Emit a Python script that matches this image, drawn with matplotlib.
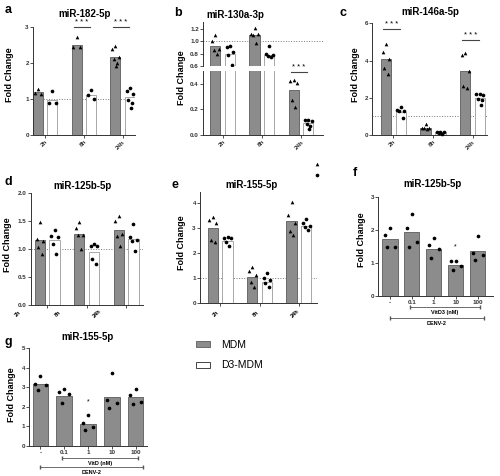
import numpy as np
import matplotlib.pyplot as plt
from matplotlib.patches import Patch
from matplotlib.transforms import offset_copy

plt.rcParams['font.family'] = ['Liberation Sans', 'DejaVu Sans']

W, H = 500, 476
GRAY = '#8c8c8c'
GRAY_EDGE = '#6a6a6a'
LIGHT_EDGE = '#a8a8a8'

times = ['2h', '8h', '24h']
doses = ['-', '0.1', '1', '10', '100']

# a: miR-182-5p
a_mdm = [1.20, 2.50, 2.18]
a_d3 = [0.97, 1.12, 1.05]
a_mdm_pts = [[1.28, 1.17, 1.13], [2.72, 2.45, 2.45], [2.48, 2.40, 2.18, 2.12, 1.99, 1.93]]
a_d3_pts = [[1.22, 0.88, 0.88], [1.25, 1.12, 1.00], [1.30, 1.22, 1.13, 0.98, 0.88, 0.75]]

# b: miR-130a-3p
b_mdm = [0.93, 1.10, 0.35]
b_d3 = [0.80, 0.78, 0.09]
b_mdm_pts = [[1.10, 1.00, 0.88, 0.86, 0.80], [1.22, 1.12, 1.11, 1.10, 0.97], [0.43, 0.42, 0.41, 0.27, 0.22]]
b_d3_pts = [[0.92, 0.90, 0.82, 0.78, 0.62], [0.93, 0.80, 0.77, 0.76, 0.75], [0.12, 0.115, 0.11, 0.085, 0.07, 0.05]]

# c: miR-146a-5p
c_mdm = [4.08, 0.36, 3.46]
c_d3 = [1.22, 0.14, 1.97]
c_mdm_pts = [[4.90, 4.45, 4.10, 3.60, 3.30], [0.58, 0.40, 0.38, 0.36, 0.32], [4.40, 4.30, 3.45, 2.62, 2.50]]
c_d3_pts = [[1.48, 1.35, 1.30, 1.27, 0.90], [0.18, 0.15, 0.14, 0.12, 0.08], [2.20, 2.18, 2.15, 1.95, 1.88, 1.62]]

# d: miR-125b-5p
d_mdm = [1.17, 1.27, 1.34]
d_d3 = [1.16, 0.95, 1.18]
d_mdm_pts = [[1.48, 1.18, 1.15, 1.03, 0.92], [1.48, 1.38, 1.26, 1.25, 1.00], [1.60, 1.50, 1.28, 1.24, 1.06]]
d_d3_pts = [[1.35, 1.24, 1.22, 1.10, 0.91], [1.10, 1.05, 1.05, 0.83, 0.73], [1.45, 1.22, 1.16, 1.14, 0.96]]

# e: miR-155-5p
e_mdm = [2.99, 1.05, 3.27]
e_d3 = [2.50, 0.85, 3.07]
e_mdm_pts = [[3.45, 3.33, 3.22, 2.52, 2.45], [1.42, 1.28, 1.10, 0.85, 0.65], [4.06, 3.53, 3.20, 2.90, 2.72]]
e_d3_pts = [[2.66, 2.62, 2.60, 2.45, 2.27], [1.20, 0.98, 0.92, 0.78, 0.62], [3.36, 3.22, 3.10, 3.06, 2.92]]
e_out_mdm = [5.58]
e_out_d3 = [5.14]

# f: miR-125b-5p, VitD3 doses
f_bar = [1.72, 1.93, 1.42, 0.94, 1.37]
f_pts = [[2.05, 1.85, 1.47, 1.47], [2.48, 2.06, 1.65, 1.49], [1.75, 1.56, 1.42, 1.14],
         [1.06, 1.05, 0.90, 0.78], [1.83, 1.29, 1.25, 1.09]]

# g: miR-155-5p, VitD doses
g_bar = [3.17, 2.58, 1.11, 2.53, 2.49]
g_pts = [[3.58, 3.18, 3.12, 2.87], [2.93, 2.78, 2.68, 2.19], [1.58, 1.20, 0.96, 0.82],
         [3.75, 2.33, 2.18, 1.93], [2.92, 2.63, 2.25, 2.13]]

fig = plt.figure(figsize=(W / 100, H / 100), dpi=100)


def add_ax(l, t, r, b):
    return fig.add_axes([l / W, 1 - b / H, (r - l) / W, (b - t) / H])


def style(ax):
    for s in ['top', 'right']:
        ax.spines[s].set_visible(False)
    for s in ['left', 'bottom']:
        ax.spines[s].set_linewidth(0.7)
        ax.spines[s].set_color('#333333')
    ax.tick_params(labelsize=4.5, length=2, width=0.6, pad=1, colors='#333333')
    for lab in ax.get_yticklabels() + ax.get_xticklabels():
        lab.set_fontweight('bold')


def spread(n):
    base = [0, -1, 1, -0.5, 0.5, 0.25]
    return np.array(base[:n])


def points(ax, xc, vals, marker, w, clip=False):
    ax.scatter(xc + spread(len(vals)) * w * 0.33, vals, marker=marker, s=7,
               color='black', linewidths=0, zorder=3, clip_on=clip)


W_BAR, OFF = 0.26, 0.187


def grouped(ax, mdm, d3, mdm_pts, d3_pts, clip=False):
    x = np.arange(len(mdm))
    ax.bar(x - OFF, mdm, W_BAR, color=GRAY, edgecolor=GRAY_EDGE, lw=0.7, zorder=2)
    ax.bar(x + OFF, d3, W_BAR, color='white', edgecolor=LIGHT_EDGE, lw=0.7, zorder=2)
    for i in x:
        points(ax, i - OFF, mdm_pts[i], '^', W_BAR, clip)
        points(ax, i + OFF, d3_pts[i], 'o', W_BAR, clip)
    ax.axhline(1, ls=':', color='#777777', lw=0.7, zorder=1)


def rotated_xlabels(ax):
    ax.set_xticks(range(3))
    ax.set_xticklabels(times, rotation=45, ha='right', rotation_mode='anchor', fontsize=4, fontweight='bold')


def stars(ax, i, y_line, y_text):
    ax.plot([i - 0.26, i + 0.16], [y_line, y_line], color='#444444', lw=0.8, clip_on=False)
    ax.text(i - 0.05, y_text, '* * *', ha='center', va='center', fontsize=5.5, clip_on=False)


def title(x, y, txt):
    fig.text(x / W, 1 - y / H, txt, ha='center', va='center', fontsize=7, fontweight='bold')


def letter(x, y, txt):
    fig.text(x / W, 1 - y / H, txt, ha='center', va='center', fontsize=9, fontweight='bold')


def ylab(x, y):
    fig.text(x / W, 1 - y / H, 'Fold Change', ha='center', va='center', rotation=90,
             fontsize=6.5, fontweight='bold')


# ---- a
ax = add_ax(33, 27, 135, 135)
grouped(ax, a_mdm, a_d3, a_mdm_pts, a_d3_pts)
ax.set_xlim(-0.315, 2.32)
ax.set_ylim(0, 3)
ax.set_yticks([0, 1, 2, 3])
rotated_xlabels(ax)
stars(ax, 1, 3.0, 3.13)
stars(ax, 2, 3.0, 3.13)
style(ax)
letter(8, 10, 'a')
title(85, 14, 'miR-182-5p')
ylab(10, 75)

# ---- b (broken axis)
axt = add_ax(203, 22, 323, 66)
axb = add_ax(203, 71, 323, 135)
for axx in (axt, axb):
    grouped(axx, b_mdm, b_d3, b_mdm_pts, b_d3_pts, clip=True)
    axx.set_xlim(-0.503, 2.56)
axt.set_ylim(0.6, 1.31)
axt.set_yticks([0.6, 0.8, 1.0, 1.2])
axt.set_yticklabels(['0.6', '0.8', '1.0', '1.2'])
axt.set_xticks([])
axb.set_ylim(0, 0.5)
axb.set_yticks([0.0, 0.2, 0.4])
axb.set_yticklabels(['0.0', '0.2', '0.4'])
rotated_xlabels(axb)
stars(axb, 2, 0.49, 0.53)
style(axt)
style(axb)
axt.spines['bottom'].set_visible(False)
letter(178, 13, 'b')
title(235, 15, 'miR-130a-3p')
ylab(182, 78)

# ---- c
ax = add_ax(372, 23.3, 487, 135)
grouped(ax, c_mdm, c_d3, c_mdm_pts, c_d3_pts)
ax.set_xlim(-0.544, 2.367)
ax.set_ylim(0, 6)
ax.set_yticks([0, 2, 4, 6])
rotated_xlabels(ax)
stars(ax, 0, 5.68, 5.92)
stars(ax, 2, 5.1, 5.36)
style(ax)
letter(343, 13, 'c')
title(430, 12, 'miR-146a-5p')
ylab(355, 75)


def shifted_xlabels(ax, dx, dy):
    ax.set_xticks(range(3))
    ax.set_xticklabels([])
    tr = offset_copy(ax.get_xaxis_transform(), fig=fig, x=dx, y=dy, units='dots')
    for i, t in enumerate(times):
        ax.text(i, 0, t, transform=tr, rotation=45, ha='center', va='center',
                fontsize=4, fontweight='bold', clip_on=False)


# ---- d
ax = add_ax(30.7, 193.3, 143, 305)
grouped(ax, d_mdm, d_d3, d_mdm_pts, d_d3_pts)
ax.set_xlim(-0.42, 2.43)
ax.set_ylim(0, 2)
ax.set_yticks([0, 0.5, 1.0, 1.5, 2.0])
ax.set_yticklabels(['0.0', '0.5', '1.0', '1.5', '2.0'])
shifted_xlabels(ax, -29, -9)
style(ax)
letter(8, 182, 'd')
title(82, 186, 'miR-125b-5p')
ylab(8, 245)

# ---- e
ax = add_ax(200, 191.7, 317, 302.7)
grouped(ax, e_mdm, e_d3, e_mdm_pts, e_d3_pts)
ax.scatter([2.46], e_out_mdm, marker='^', s=7, color='black', linewidths=0, clip_on=False)
ax.scatter([2.46], e_out_d3, marker='o', s=7, color='black', linewidths=0, clip_on=False)
ax.set_xlim(-0.514, 2.46)
ax.set_ylim(0, 4.47)
ax.set_yticks([0, 1, 2, 3, 4])
shifted_xlabels(ax, -4, -11)
style(ax)
letter(175, 185, 'e')
title(252, 185, 'miR-155-5p')
ylab(182, 243)


def dose_panel(ax, bars, pts, w, vit_label, y_vit, y_vit_txt, y_den, y_den_txt, star_i, star_y):
    x = np.arange(len(bars))
    ax.bar(x, bars, w, color=GRAY, edgecolor=GRAY_EDGE, lw=0.7, zorder=2)
    for i in x:
        points(ax, i, pts[i], 'o', w)
    ax.text(star_i, star_y, '*', ha='center', va='center', fontsize=5)
    ax.set_xticks(x)
    ax.set_xticklabels(doses, fontsize=4.5, fontweight='bold')
    tr = ax.get_xaxis_transform()
    ax.plot([0.9, 4.1], [y_vit, y_vit], color='#555555', lw=0.6, transform=tr, clip_on=False,
            marker='|', markersize=2.5, markevery=[0, 1])
    ax.text(2.5, y_vit_txt, vit_label, transform=tr, ha='center', va='center', fontsize=4, fontweight='bold')
    ax.plot([0, 4.3], [y_den, y_den], color='#555555', lw=0.6, transform=tr, clip_on=False,
            marker='|', markersize=2.5, markevery=[0, 1])
    ax.text(2.15, y_den_txt, 'DENV-2', transform=tr, ha='center', va='center', fontsize=4, fontweight='bold')


# ---- f
ax = add_ax(378.3, 197.3, 493.3, 295.7)
dose_panel(ax, f_bar, f_pts, 0.69, 'VitD3 (nM)', -0.112, -0.173, -0.23, -0.283, 3, 1.5)
ax.set_xlim(-0.534, 4.72)
ax.set_ylim(0, 3)
ax.set_yticks([0, 1, 2, 3])
style(ax)
letter(355, 173, 'f')
title(433, 184, 'miR-125b-5p')
ylab(362, 240)

# ---- g
ax = add_ax(29.3, 348.3, 146.7, 446)
dose_panel(ax, g_bar, g_pts, 0.66, 'VitD (nM)', -0.126, -0.18, -0.212, -0.276, 2, 2.27)
ax.set_xlim(-0.47, 4.47)
ax.set_ylim(0, 5)
ax.set_yticks([0, 1, 2, 3, 4, 5])
style(ax)
letter(8, 342, 'g')
title(88, 337, 'miR-155-5p')
ylab(12, 395)

# legend
handles = [Patch(facecolor=GRAY, edgecolor=GRAY_EDGE, lw=0.7),
           Patch(facecolor='white', edgecolor='#444444', lw=0.7)]
fig.legend(handles, ['MDM', 'D3-MDM'], loc='upper left', bbox_to_anchor=(196 / W, 1 - 340 / H),
           frameon=False, fontsize=7.5, handlelength=1.3, handleheight=0.55,
           labelspacing=1.0, handletextpad=1.1, borderaxespad=0, borderpad=0)

fig.savefig('out.png', dpi=100)
